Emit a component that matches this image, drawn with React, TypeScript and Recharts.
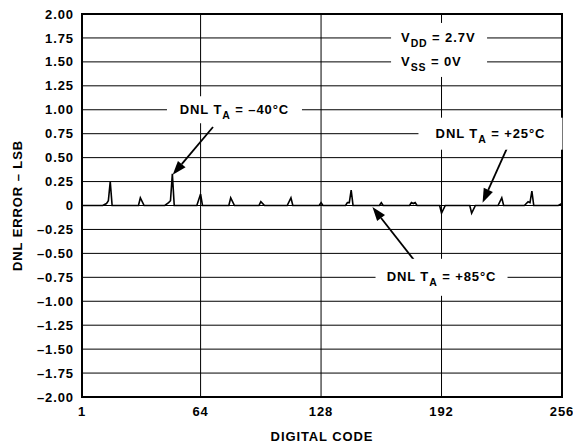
import React from 'react';
import {
  LineChart,
  Line,
  XAxis,
  YAxis,
  CartesianGrid,
  ReferenceArea,
  ReferenceDot,
  ReferenceLine,
} from 'recharts';

// sparse DNL trace: baseline at 0 with spikes near every 16th code
const codes = [
  1, 12, 14, 15, 16, 17, 31, 32, 34, 45, 47, 48, 49, 50, 62, 64, 65, 79, 80, 82,
  95, 96, 98, 110, 112, 113, 127, 128, 129, 141, 142, 143, 144, 145, 159, 160, 161,
  175, 176, 177, 178, 179, 191, 192, 194, 207, 208, 210, 222, 224, 225, 236, 238,
  239, 240, 241, 254, 256,
];
const dnl = [
  0, 0, 0.02, 0.05, 0.25, 0, 0, 0.08, 0, 0, 0.03, 0.05, 0.33, 0, 0, 0.12, 0, 0, 0.08, 0,
  0, 0.04, 0, 0, 0.08, 0, 0, 0.03, 0, 0, 0.03, 0.03, 0.16, 0, 0, 0.03, 0,
  0, 0.03, 0.02, 0.03, 0, 0, -0.08, 0, 0, -0.08, 0, 0, 0.08, 0, 0, 0.04,
  0.03, 0.15, 0, 0, 0.02,
];

const xTicks = [1, 64, 128, 192, 256];
const yTicks = [2, 1.75, 1.5, 1.25, 1, 0.75, 0.5, 0.25, 0, -0.25, -0.5, -0.75, -1, -1.25, -1.5, -1.75, -2];

const data = codes.map((c, i) => ({ code: c, dnl: dnl[i] }));

const font = 'Liberation Sans, Arial, sans-serif';
const txt = { fontFamily: font, fontWeight: 700, fontSize: 13, letterSpacing: 0.9 };
const tickStyle = { ...txt, fill: '#000' };

const fmtY = (v: number) => (v === 0 ? '0' : v < 0 ? '\u2013' + Math.abs(v).toFixed(2) : v.toFixed(2));

// label with white backing box, anchored on a data point
const boxLabel =
  (w: number, h: number, dxBox: number, lines: React.ReactNode[], anchor: 'start' | 'middle' = 'middle') =>
  (p: any) => {
    const { cx, cy } = p;
    const bx = anchor === 'middle' ? cx - w / 2 : cx + dxBox;
    const top = cy - (lines.length === 1 ? h / 2 : 15);
    return (
      <g>
        <rect x={bx} y={top} width={w} height={h} fill="#fff" />
        {lines.map((ln, i) => (
          <text key={i} x={cx} y={cy + i * 24} dy={4} textAnchor={anchor} style={txt} fill="#000">
            {ln}
          </text>
        ))}
      </g>
    );
  };

const sub = (s: string) => (
  <>
    <tspan dy={5} fontSize={10.5}>
      {s}
    </tspan>
    <tspan dy={-5}> </tspan>
  </>
);

const arrow = (p: any) => {
  const { x1, y1, x2, y2 } = p;
  const ang = Math.atan2(y2 - y1, x2 - x1);
  const len = 14;
  const wid = 5;
  const bx = x2 - len * Math.cos(ang);
  const by = y2 - len * Math.sin(ang);
  const px = -Math.sin(ang) * wid;
  const py = Math.cos(ang) * wid;
  return (
    <g>
      <line x1={x1} y1={y1} x2={bx} y2={by} stroke="#000" strokeWidth={1.8} />
      <polygon points={`${x2},${y2} ${bx + px},${by + py} ${bx - px},${by - py}`} fill="#000" />
    </g>
  );
};

export default function App() {
  return (
    <div style={{ position: 'absolute', left: 0, top: 0, background: '#fff' }}>
      <LineChart width={573} height={448} data={data} margin={{ top: 14, right: 11, bottom: 0, left: 0 }}>
        <CartesianGrid stroke="#000" strokeWidth={1} />
        <XAxis
          dataKey="code"
          type="number"
          domain={[1, 256]}
          ticks={xTicks}
          axisLine={false}
          tickLine={false}
          tick={tickStyle}
          tickMargin={4}
          height={51}
          interval={0}
          label={{
            content: (p: any) => (
              <text
                x={p.viewBox.x + p.viewBox.width / 2}
                y={p.viewBox.y + 44}
                textAnchor="middle"
                style={txt}
                fill="#000"
              >
                DIGITAL CODE
              </text>
            ),
          }}
        />
        <YAxis
          type="number"
          domain={[-2, 2]}
          ticks={yTicks}
          interval={0}
          axisLine={false}
          tickLine={false}
          tick={tickStyle}
          tickFormatter={fmtY}
          width={82}
          label={{
            content: (p: any) => {
              const x = p.viewBox.x + 17;
              const y = p.viewBox.y + p.viewBox.height / 2;
              return (
                <text
                  x={x}
                  y={y}
                  transform={`rotate(-90 ${x} ${y})`}
                  textAnchor="middle"
                  dominantBaseline="central"
                  style={txt}
                  fill="#000"
                >
                  DNL ERROR – LSB
                </text>
              );
            },
          }}
        />
        <ReferenceDot
          x={82}
          y={1}
          r={0}
          shape={boxLabel(135, 27, 0, [<>DNL T{sub('A')}= –40°C</>])}
        />
        <ReferenceDot
          x={170.5}
          y={1.75}
          r={0}
          shape={boxLabel(96, 54, -10, [<>V{sub('DD')}= 2.7V</>, <>V{sub('SS')}= 0V</>], 'start')}
        />
        <ReferenceDot
          x={218}
          y={0.75}
          r={0}
          shape={boxLabel(144, 32, 0, [<>DNL T{sub('A')}= +25°C</>])}
        />
        <ReferenceDot
          x={192}
          y={-0.75}
          r={0}
          shape={boxLabel(132, 37, 0, [<>DNL T{sub('A')}= +85°C</>])}
        />
        <Line
          type="linear"
          dataKey="dnl"
          stroke="#000"
          strokeWidth={1.6}
          dot={false}
          isAnimationActive={false}
        />
        <ReferenceLine segment={[{ x: 70.6, y: 0.82 }, { x: 49.2, y: 0.32 }]} shape={arrow} />
        <ReferenceLine segment={[{ x: 226.8, y: 0.6 }, { x: 213.8, y: 0.03 }]} shape={arrow} />
        <ReferenceLine segment={[{ x: 179, y: -0.61 }, { x: 155.3, y: -0.015 }]} shape={arrow} />
        <ReferenceArea x1={1} x2={256} y1={-2} y2={2} fill="none" stroke="#000" strokeWidth={2} fillOpacity={0} />
      </LineChart>
    </div>
  );
}
